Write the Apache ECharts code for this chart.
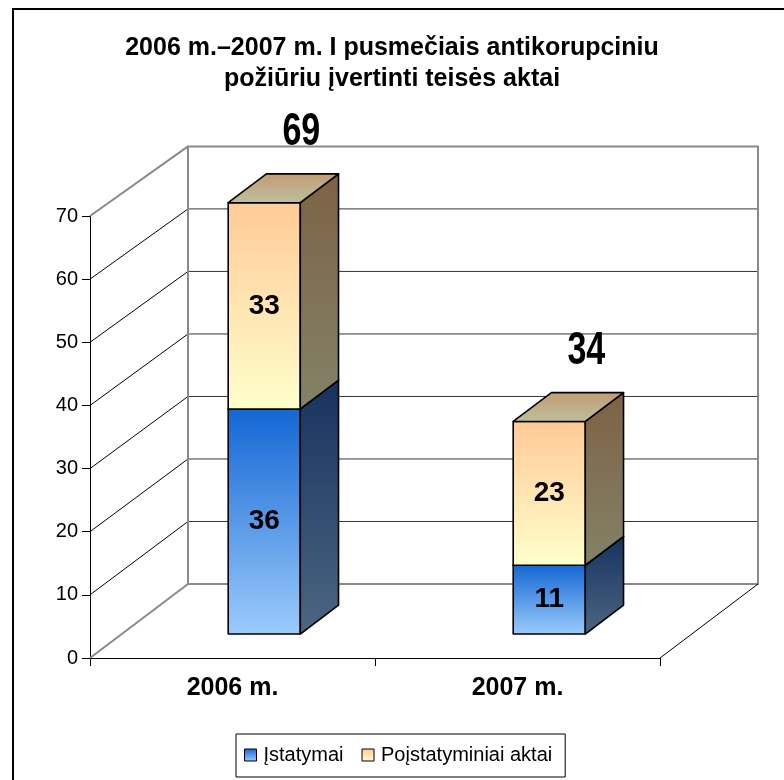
<!DOCTYPE html>
<html><head><meta charset="utf-8">
<script src="https://cdn.jsdelivr.net/npm/echarts@6/dist/echarts.min.js"></script>
<style>html,body{margin:0;padding:0;background:#fff}#c{width:784px;height:780px}</style>
</head><body><div id="c"></div>
<script>
// ---- data ----
const categories = ['2006 m.', '2007 m.'];
const seriesNames = ['Įstatymai', 'Poįstatyminiai aktai'];
const lawValues = [36, 11];      // Įstatymai
const subLawValues = [33, 23];   // Poįstatyminiai aktai
const yMin = 0, yMax = 70, yInterval = 10;
const titleLines = ['2006 m.–2007 m. I pusmečiais antikorupciniu', 'požiūriu įvertinti teisės aktai'];

const totals = categories.map((c, i) => lawValues[i] + subLawValues[i]);
const lawBases = categories.map(() => 0);
const subLawBases = lawValues.slice();

// ---- 3D look (styling constants) ----
const FONT = "'Liberation Sans', Arial, sans-serif";
const DEPTH_X = 98, DEPTH_Y = -74;     // pixel offset of the back wall
const DEPTH_SHRINK = 0.99;             // slight perspective shrink behind the front plane
const BAR_FRONT = 0.324, BAR_DEPTH = 0.39, BAR_WIDTH_FRAC = 0.253;
const TOTAL_LABEL_DX = 18, TOTAL_LABEL_DY = -56;

const G = (c1, c2) => new echarts.graphic.LinearGradient(0, 0, 0, 1, [{offset: 0, color: c1}, {offset: 1, color: c2}]);
const palettes = [
  {front: ['#1466D4', '#9CCBFB'], side: ['#17325F', '#4C6682'], top: ['#1A3E80', '#3A6AB0']},
  {front: ['#FFCA96', '#FFFFCC'], side: ['#7D6245', '#838268'], top: ['#C39B74', '#BDBF9B']}
];

function project(api, x, val, d) {
  const y0 = api.coord([0, 0])[1];
  const yv = api.coord([0, val])[1];
  const k = d > 0 ? DEPTH_SHRINK : 1;
  return [x + DEPTH_X * d, y0 + DEPTH_Y * d - (y0 - yv) * k];
}

function wallsRender(params, api) {
  const cs = params.coordSys;
  const xL = cs.x, xR = cs.x + cs.width;
  const kids = [];
  const line = (p, q, stroke, w) => kids.push({type: 'line', shape: {x1: p[0], y1: p[1], x2: q[0], y2: q[1]}, style: {stroke, lineWidth: w}});
  for (let v = yMin + yInterval; v < yMax; v += yInterval) {
    line(project(api, xL, v, 1), project(api, xR, v, 1), '#333', 1);
    line(project(api, xL, v, 0), project(api, xL, v, 1), '#000', 1);
  }
  kids.push({type: 'polygon', shape: {points: [project(api, xL, yMax, 1), project(api, xL, yMin, 1), project(api, xR, yMin, 1), project(api, xR, yMax, 1)]},
    style: {fill: null, stroke: '#8a8a8a', lineWidth: 2}});
  line(project(api, xL, yMax, 0), project(api, xL, yMax, 1), '#8a8a8a', 2);
  line(project(api, xL, yMin, 0), project(api, xL, yMin, 1), '#8a8a8a', 2);
  line(project(api, xR, yMin, 0), project(api, xR, yMin, 1), '#000', 1);
  return {type: 'group', children: kids};
}

function barSeries(idx, values, bases) {
  const pal = palettes[idx];
  return {
    type: 'custom', name: seriesNames[idx], coordinateSystem: 'cartesian2d', z: 3, clip: false,
    itemStyle: {color: G(pal.front[0], pal.front[1])},
    data: values.map((v, i) => [i, v]),
    renderItem(params, api) {
      const i = api.value(0), v = api.value(1);
      const a = bases[i], b = a + v;
      const cx = api.coord([i, 0])[0];
      const hw = api.size([1, 0])[0] * BAR_WIDTH_FRAC / 2;
      const d0 = BAR_FRONT, d1 = BAR_FRONT + BAR_DEPTH;
      const P = (x, val, d) => project(api, x, val, d);
      const L = cx - hw, R = cx + hw;
      const face = (pts, c) => ({type: 'polygon', shape: {points: pts}, style: {fill: G(c[0], c[1]), stroke: '#000', lineWidth: 1.6, lineJoin: 'round'}});
      const fb = P(L, a, d0), ft = P(L, b, d0);
      return {type: 'group', children: [
        face([P(L, a, d0), P(R, a, d0), P(R, b, d0), P(L, b, d0)], pal.front),
        face([P(R, a, d0), P(R, a, d1), P(R, b, d1), P(R, b, d0)], pal.side),
        face([P(L, b, d1), P(R, b, d1), P(R, b, d0), P(L, b, d0)], pal.top),
        {type: 'text', x: cx + DEPTH_X * d0, y: (fb[1] + ft[1]) / 2,
          style: {text: String(v), font: 'bold 28px ' + FONT, fill: '#000', align: 'center', verticalAlign: 'middle'}}
      ]};
    }
  };
}

const chart = echarts.init(document.getElementById('c'));
chart.setOption({
  backgroundColor: '#fff',
  animation: false,
  title: {text: titleLines.join('\n'), left: 'center', top: 28,
    textStyle: {fontFamily: FONT, fontSize: 25, fontWeight: 'bold', color: '#000', lineHeight: 31}},
  graphic: [{type: 'rect', shape: {x: 13, y: 9, width: 820, height: 820}, style: {fill: null, stroke: '#000', lineWidth: 2}, silent: true}],
  legend: {
    data: [
      {name: seriesNames[0], itemStyle: {color: G(palettes[0].front[0], palettes[0].front[1]), borderColor: '#000', borderWidth: 1}},
      {name: seriesNames[1], itemStyle: {color: G(palettes[1].front[0], palettes[1].front[1]), borderColor: '#000', borderWidth: 1}}
    ],
    left: 236, top: 734, icon: 'rect', itemWidth: 12, itemHeight: 12, itemGap: 18,
    padding: [11, 13, 12, 8], borderColor: '#000', borderWidth: 1, backgroundColor: '#fff',
    textStyle: {fontFamily: FONT, fontSize: 20, color: '#000', padding: [0, 0, 0, 2]}
  },
  grid: {left: 90, top: 216, width: 570, height: 442},
  xAxis: {type: 'category', data: categories, boundaryGap: true,
    axisLine: {show: true, lineStyle: {color: '#000', width: 1}},
    axisTick: {show: true, length: 8, lineStyle: {color: '#000'}},
    axisLabel: {margin: 18, fontFamily: FONT, fontSize: 25, fontWeight: 'bold', color: '#000'},
    splitLine: {show: false}},
  yAxis: {type: 'value', min: yMin, max: yMax, interval: yInterval,
    axisLine: {show: true, lineStyle: {color: '#000', width: 1}},
    axisTick: {show: true, length: 8, lineStyle: {color: '#000'}},
    axisLabel: {margin: 12, fontFamily: FONT, fontSize: 20, color: '#000'},
    splitLine: {show: false}},
  series: [
    {type: 'custom', name: 'walls', coordinateSystem: 'cartesian2d', z: 1, silent: true, clip: false,
      data: [[0, 0]], renderItem: wallsRender},
    barSeries(0, lawValues, lawBases),
    barSeries(1, subLawValues, subLawBases),
    {type: 'custom', name: 'totals', coordinateSystem: 'cartesian2d', z: 4, silent: true, clip: false,
      data: totals.map((t, i) => [i, t]),
      renderItem(params, api) {
        const i = api.value(0), t = api.value(1);
        const cx = api.coord([i, 0])[0];
        const p = project(api, cx, t, BAR_FRONT + BAR_DEPTH / 2);
        return {type: 'text', x: p[0] + TOTAL_LABEL_DX, y: p[1] + TOTAL_LABEL_DY, scaleX: 0.74,
          style: {text: String(t), font: 'bold 46px ' + FONT, fill: '#000', align: 'center', verticalAlign: 'middle'}};
      }}
  ]
});
</script></body></html>
